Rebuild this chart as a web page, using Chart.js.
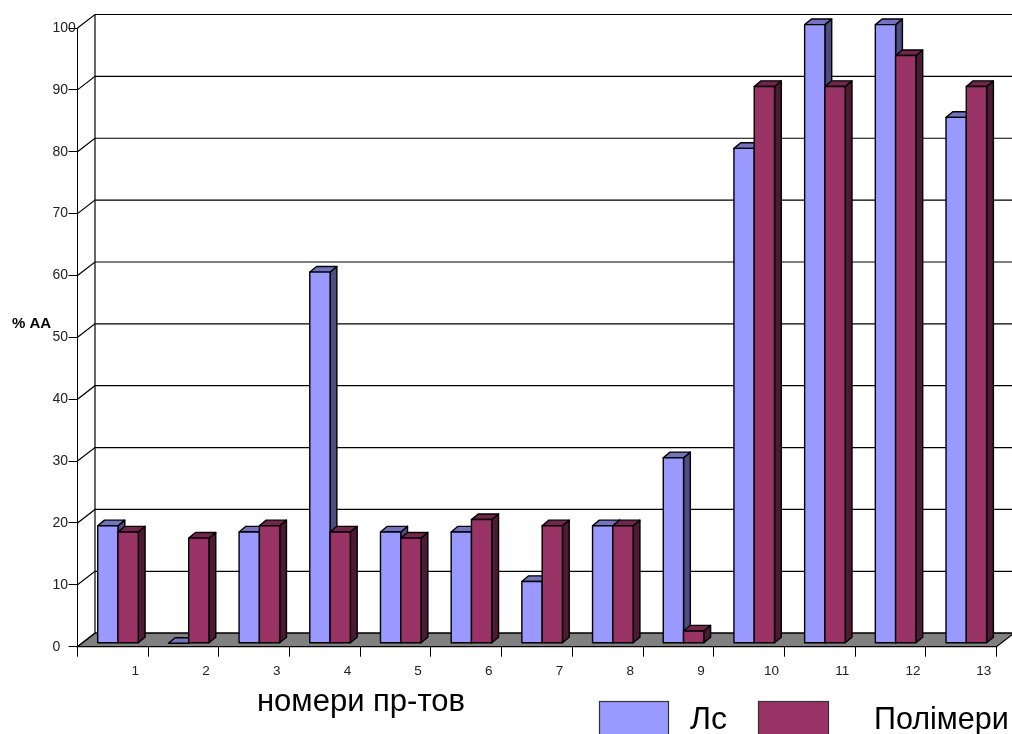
<!DOCTYPE html>
<html>
<head>
<meta charset="utf-8">
<title>% АА</title>
<script src="https://cdn.jsdelivr.net/npm/chart.js@4"></script>
<style>
html, body { margin: 0; padding: 0; background: #fff; overflow: hidden; }
canvas { display: block; }
</style>
</head>
<body>
<canvas id="myChart" width="1012" height="734"></canvas>
<script>
var categories = ["1", "2", "3", "4", "5", "6", "7", "8", "9", "10", "11", "12", "13"];
var lsValues = [19, 0, 18, 60, 18, 18, 10, 19, 30, 80, 100, 100, 85];
var polymerValues = [18, 17, 19, 18, 17, 20, 19, 19, 2, 90, 90, 95, 90];
var seriesNames = ["Лс", "Полімери"];
var yTitle = "% АА";
var xTitle = "номери пр-тов";

var fontName = '"Liberation Sans", Arial, sans-serif';

// depth of the back wall and of the bars, in pixels
var wallX = 17.5, wallY = -13.5;
var barShiftX = 5.15, barShiftY = -3.4;
var barDepthX = 6.8, barDepthY = -5.6;

var faces = [
	{ front: '#9999ff', top: '#7373bf', side: '#4d4d80' },
	{ front: '#993366', top: '#73264d', side: '#4d1a33' }
];

function poly(ctx, pts, fill) {
	ctx.beginPath();
	ctx.moveTo(pts[0][0], pts[0][1]);
	for (var i = 1; i < pts.length; i++) ctx.lineTo(pts[i][0], pts[i][1]);
	ctx.closePath();
	if (fill) { ctx.fillStyle = fill; ctx.fill(); }
	ctx.stroke();
}

// walls, floor and the flat texts that the scales can't place
var box3d = {
	id: 'box3d',
	beforeDatasetsDraw: function (chart) {
		var ctx = chart.ctx, a = chart.chartArea, y = chart.scales.y;
		ctx.save();
		ctx.strokeStyle = '#000';
		ctx.lineWidth = 1.2;
		y.ticks.forEach(function (t) {
			var py = y.getPixelForValue(t.value);
			ctx.beginPath();
			ctx.moveTo(a.left, py);
			ctx.lineTo(a.left + wallX, py + wallY);
			ctx.lineTo(a.right + wallX, py + wallY);
			ctx.stroke();
		});
		ctx.beginPath();
		ctx.moveTo(a.left + wallX, a.top + wallY);
		ctx.lineTo(a.left + wallX, a.bottom + wallY);
		ctx.stroke();
		poly(ctx, [[a.left, a.bottom], [a.right, a.bottom], [a.right + wallX, a.bottom + wallY], [a.left + wallX, a.bottom + wallY]], '#808080');

		ctx.fillStyle = '#000';
		ctx.textBaseline = 'middle';
		ctx.textAlign = 'left';
		ctx.font = 'bold 15px ' + fontName;
		ctx.fillText(yTitle, 12, 323.5);
		ctx.font = '31px ' + fontName;
		ctx.textAlign = 'center';
		ctx.fillText(xTitle, 361, 702);

		// legend
		ctx.textAlign = 'left';
		ctx.textBaseline = 'alphabetic';
		ctx.fillStyle = '#000';
		ctx.font = '32px ' + fontName;
		ctx.fillText(seriesNames[0], 690, 729);
		ctx.font = '30.5px ' + fontName;
		ctx.fillText(seriesNames[1], 874, 729);
		ctx.strokeStyle = '#333';
		ctx.fillStyle = faces[0].front;
		ctx.fillRect(600, 702, 68, 40);
		ctx.strokeRect(599.5, 701.5, 69, 40);
		ctx.fillStyle = faces[1].front;
		ctx.fillRect(759, 702, 69, 40);
		ctx.strokeRect(758.5, 701.5, 70, 40);
		ctx.restore();
	},
	// the plain flat bars are replaced, see afterDatasetsDraw
	beforeDatasetDraw: function () {
		return false;
	},
	afterDatasetsDraw: function (chart) {
		var ctx = chart.ctx;
		ctx.save();
		ctx.strokeStyle = '#000';
		ctx.lineWidth = 1.4;
		ctx.lineJoin = 'round';
		for (var c = 0; c < categories.length; c++) {
			for (var d = 0; d < chart.data.datasets.length; d++) {
				var bar = chart.getDatasetMeta(d).data[c];
				var l = bar.x - bar.width / 2 + barShiftX, r = l + bar.width;
				var t = bar.y + barShiftY, b = bar.base + barShiftY;
				var f = faces[d];
				if (b > t) {
					poly(ctx, [[r, t], [r + barDepthX, t + barDepthY], [r + barDepthX, b + barDepthY], [r, b]], f.side);
				}
				poly(ctx, [[l, t], [l + barDepthX, t + barDepthY], [r + barDepthX, t + barDepthY], [r, t]], f.top);
				if (b > t) {
					poly(ctx, [[l, t], [r, t], [r, b], [l, b]], f.front);
				}
			}
		}
		ctx.restore();
	}
};

var ctx = document.getElementById('myChart').getContext('2d');
var chart = new Chart(ctx, {
	type: 'bar',
	data: {
		labels: categories,
		datasets: [
			{ label: seriesNames[0], data: lsValues, backgroundColor: faces[0].front },
			{ label: seriesNames[1], data: polymerValues, backgroundColor: faces[1].front }
		]
	},
	options: {
		responsive: false,
		animation: false,
		categoryPercentage: 0.574,
		barPercentage: 1,
		layout: { padding: { left: 52.5, top: 28, right: 15.5, bottom: 0 } },
		plugins: { legend: { display: false }, tooltip: { enabled: false }, title: { display: false } },
		scales: {
			x: {
				grid: { drawOnChartArea: false, color: '#000', tickLength: 10 },
				border: { color: '#000' },
				ticks: {
					color: '#222', font: { family: fontName, size: 13.5 },
					labelOffset: 22.5, padding: 6, maxRotation: 0, autoSkip: false
				},
				afterFit: function (s) { s.height = 87.3; s.paddingLeft = 0; s.paddingRight = 0; }
			},
			y: {
				min: 0,
				max: 100,
				grid: { drawOnChartArea: false, color: '#000', tickLength: 9 },
				border: { color: '#000' },
				ticks: {
					stepSize: 10, color: '#222', font: { family: fontName, size: 14 },
					crossAlign: 'far', padding: 0
				},
				afterFit: function (s) { s.width = 25; s.paddingTop = 0; s.paddingBottom = 0; }
			}
		}
	},
	plugins: [box3d]
});
</script>
</body>
</html>
